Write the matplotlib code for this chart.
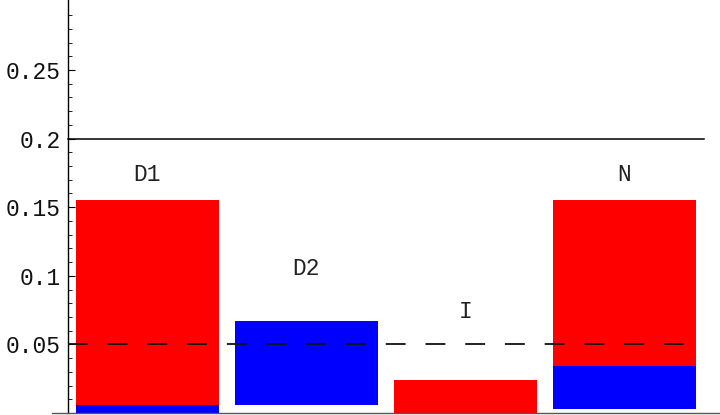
import matplotlib
matplotlib.use("Agg")
import matplotlib.pyplot as plt
import numpy as np

categories = ["D1", "D2", "I", "N"]
red_low = [0.006, 0.0, 0.0, 0.034]
red_high = [0.155, 0.0, 0.024, 0.155]
blue_low = [0.0, 0.006, 0.0, 0.003]
blue_high = [0.006, 0.067, 0.0, 0.034]
label_y = [0.174, 0.105, 0.074, 0.174]
solid_level = 0.2
dashed_level = 0.05
yticks = [0.05, 0.1, 0.15, 0.2, 0.25]
ytick_labels = ["0.05", "0.1", "0.15", "0.2", "0.25"]

font = "Liberation Mono"

fig = plt.figure(figsize=(7.2, 4.15), dpi=100)
ax = fig.add_axes([52 / 720, 2 / 415, 668 / 720, 413 / 415])

x = np.arange(1, len(categories) + 1)
rh = np.array(red_high) - np.array(red_low)
bh = np.array(blue_high) - np.array(blue_low)
ax.bar(x, rh, bottom=red_low, width=0.9, color="#ff0000", linewidth=0, zorder=2)
ax.bar(x, bh, bottom=blue_low, width=0.9, color="#0000ff", linewidth=0, zorder=2)

ax.plot([0.5, 4.5], [solid_level, solid_level], color="black", lw=1.1, zorder=3)
ax.plot([0.5, 4.42], [dashed_level, dashed_level], color="#111111", lw=1.3,
        linestyle=(0, (11, 11)), zorder=3, dash_capstyle="butt")

for xi, lab, ly in zip(x, categories, label_y):
    ax.text(xi, ly, lab, ha="center", va="center", fontsize=16.5,
            family=font, color="#222222")

ax.set_xlim(0.4, 4.6)
ax.set_ylim(0, 0.301)

for s in ["top", "right"]:
    ax.spines[s].set_visible(False)
ax.spines["left"].set_position(("data", 0.5))
ax.spines["left"].set_linewidth(1.0)
ax.spines["bottom"].set_color("#555555")
ax.spines["bottom"].set_linewidth(1.0)

ax.set_xticks([])
ax.set_yticks(yticks)
ax.set_yticklabels(ytick_labels, family=font, fontsize=16.5, color="#111111")
ax.set_yticks(np.arange(0.01, 0.30, 0.01), minor=True)
ax.tick_params(axis="y", which="major", direction="in", length=5, width=0.8, pad=5)
ax.tick_params(axis="y", which="minor", direction="in", length=3, width=0.6)

fig.savefig("out.png", dpi=100)
